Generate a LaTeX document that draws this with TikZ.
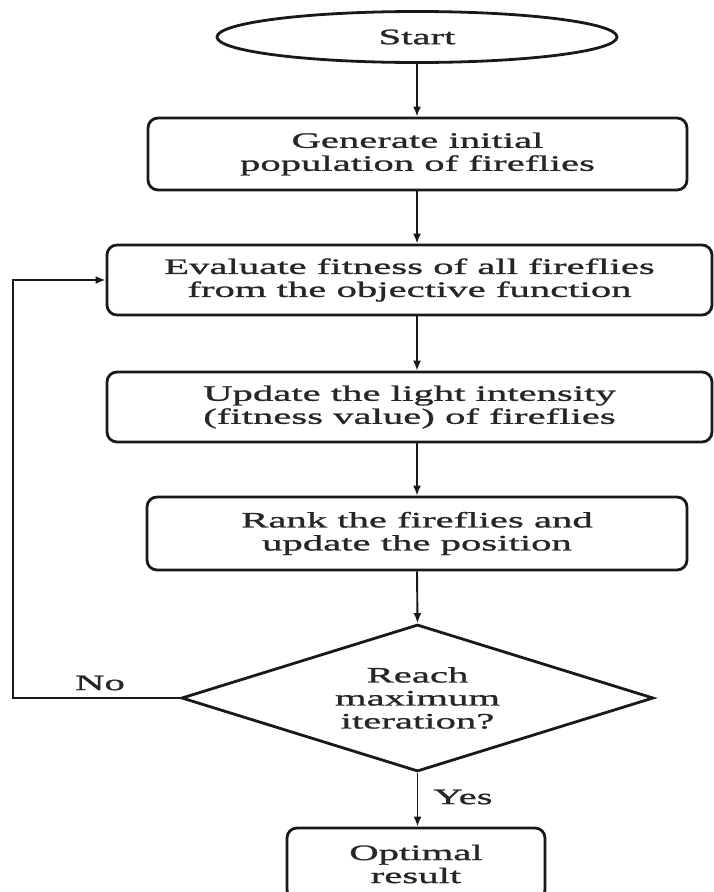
\documentclass[tikz,border=0pt]{standalone}
\usepackage{fontspec}
\setmainfont{Liberation Serif}[FakeStretch=1.85,FakeBold=1.2]
\usetikzlibrary{shapes.geometric,arrows.meta}
\begin{document}
\begin{tikzpicture}[x=1pt,y=-1pt,
  txt/.style={font=\fontsize{22}{23}\selectfont, text=black!85},
  box/.style={txt, draw=black!90, line width=2.8pt, rounded corners=10pt, align=center, inner sep=0pt},
  arr/.style={line width=1.9pt, draw=black!90, -{Latex[length=10pt,width=8pt]}},
  lbl/.style={txt, inner sep=0pt}]
\useasboundingbox (0,0) rectangle (714,892);
\clip (0,0) rectangle (714,892);
\node[box, ellipse, rounded corners=0pt, minimum width=400pt, minimum height=51pt] (start) at (417,37) {Start};
\node[box, minimum width=539pt, minimum height=72pt] (b1) at (417.5,154) {Generate initial\\population of fireflies};
\node[box, minimum width=605pt, minimum height=70pt] (b2) at (409.5,280) {Evaluate fitness of all fireflies\\from the objective function};
\node[box, minimum width=605pt, minimum height=70pt] (b3) at (409.5,407) {Update the light intensity\\(fitness value) of fireflies};
\node[box, minimum width=540pt, minimum height=73pt] (b4) at (417,533.5) {Rank the fireflies and\\update the position};
\node[box, diamond, rounded corners=0pt, aspect=3.2, minimum width=472pt, minimum height=147pt] (dec) at (417.5,698) {Reach\\maximum\\iteration?};
\node[box, minimum width=258pt, minimum height=72pt] (res) at (416,864) {Optimal\\result};
\coordinate (lp) at (13,698);
\draw[arr] (start.south) -- (start.south |- b1.north);
\draw[arr] (start.south |- b1.south) -- (start.south |- b2.north);
\draw[arr] (start.south |- b2.south) -- (start.south |- b3.north);
\draw[arr] (start.south |- b3.south) -- (start.south |- b4.north);
\draw[arr] (start.south |- b4.south) -- (dec.north);
\draw[arr] (dec.south) -- (dec.south |- res.north);
\draw[arr] (dec.west) -- (lp) |- (b2.west);
\node[lbl] (no) at (100,683) {No};
\node[lbl] (yes) at (463,797) {Yes};
\end{tikzpicture}
\end{document}
